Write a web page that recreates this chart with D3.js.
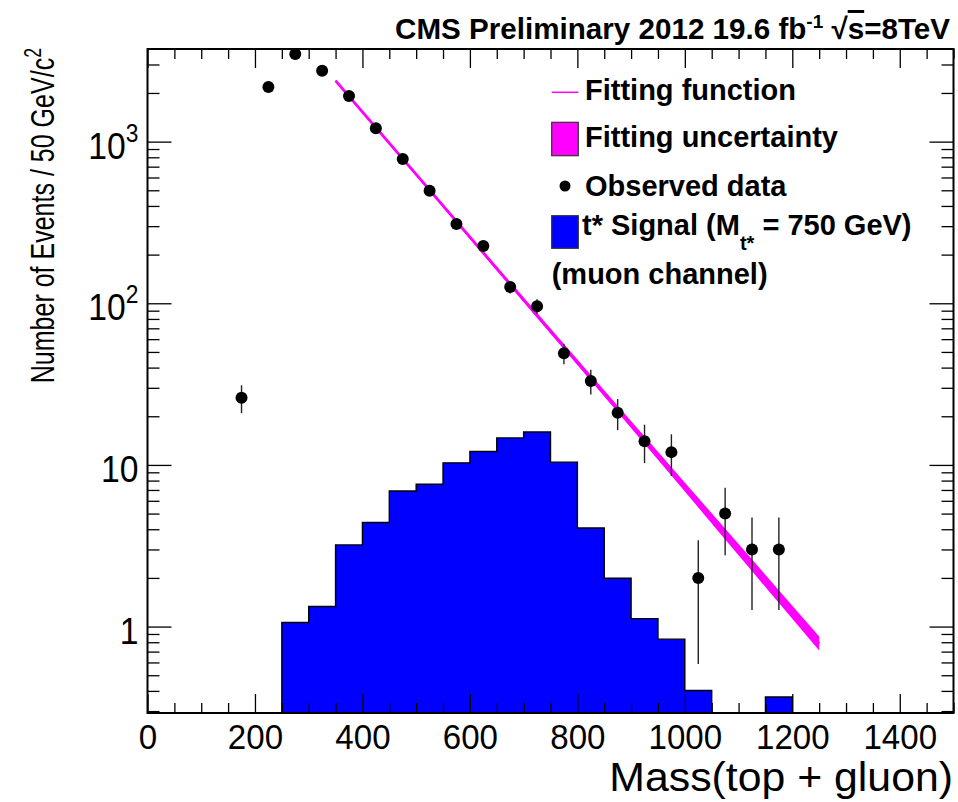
<!DOCTYPE html>
<html><head><meta charset="utf-8">
<script src="https://cdn.jsdelivr.net/npm/d3@7"></script>
<style>
html,body{margin:0;padding:0;background:#fff;}
svg{display:block;font-family:"Liberation Sans",Arial,Helvetica,sans-serif;}
</style></head><body>
<svg id="chart" width="958" height="802"></svg>
<script>
// ---------------- data ----------------
const dataMass   = [175,225,275,325,375,425,475,525,575,625,675,725,775,825,875,925,975,1025,1075,1125,1175];
const dataCounts = [26,2180,3480,2740,1914,1208,780,497,309,226,126,96,49,33,21,14,12,2,5,3,3];

const signalEdges  = [250,300,350,400,450,500,550,600,650,700,750,800,850,900,950,1000,1050,1100,1150,1200];
const signalValues = [1.06,1.33,3.2,4.4,6.9,7.6,10.3,12.1,14.7,16.0,10.4,4.07,1.99,1.12,0.836,0.402,0,0,0.367];

const fitMass   = [350,500,650,800,950,1100,1250];
const fitValues = [2380,627,164,43.2,11.4,2.99,0.785];
const fitUpper  = [2413,640,168.6,44.9,12.07,3.24,0.867];
const fitLower  = [2347,614,159.5,41.5,10.77,2.76,0.711];

const xDomain = [0,1500];
const yDomain = [0.292,3741];
const xMajorTicks = [0,200,400,600,800,1000,1200,1400];
const xMinorStep = 50;
const yMajorTicks = [1,10,100,1000];
const yTickBase = ["1","10","10","10"];
const yTickExp  = ["","","2","3"];

const titleMain = "CMS Preliminary 2012 19.6 fb";
const xTitle = "Mass(top + gluon)";
const yTitle = "Number of Events / 50 GeV/c";

// ---------------- layout ----------------
const M = {left:147.5, right:953.5, top:49, bottom:713};
const svg = d3.select("#chart");
const x = d3.scaleLinear().domain(xDomain).range([M.left, M.right]);
const y = d3.scaleLog().domain(yDomain).range([M.bottom, M.top]);
const yv = v => y(Math.max(v, yDomain[0]));

const MAGENTA = "#ff00ff", BLUE = "#0000ff";

// ---------------- signal histogram ----------------
const histPts = signalEdges.map((e,i) => [e, i < signalValues.length ? signalValues[i] : signalValues[signalValues.length-1]]);
const area = d3.area().curve(d3.curveStepAfter)
  .x(d => x(d[0])).y0(M.bottom).y1(d => yv(d[1]));
svg.append("path").datum(histPts).attr("d", area).attr("fill", BLUE);
const outPath = d3.path();
outPath.moveTo(x(signalEdges[0]), M.bottom);
signalValues.forEach((v,i) => {
  outPath.lineTo(x(signalEdges[i]), yv(v));
  outPath.lineTo(x(signalEdges[i+1]), yv(v));
});
outPath.lineTo(x(signalEdges[signalEdges.length-1]), M.bottom);
svg.append("path").attr("d", outPath.toString()).attr("fill","none").attr("stroke","#000").attr("stroke-width",1.4);

// ---------------- fit band + line ----------------
const fitData = fitMass.map((m,i) => ({m, v:fitValues[i], lo:fitLower[i], hi:fitUpper[i]}));
svg.append("path").datum(fitData)
  .attr("d", d3.area().curve(d3.curveMonotoneX).x(d => x(d.m)).y0(d => y(d.lo)).y1(d => y(d.hi)))
  .attr("fill", MAGENTA);
svg.append("path").datum(fitData)
  .attr("d", d3.line().curve(d3.curveMonotoneX).x(d => x(d.m)).y(d => y(d.v)))
  .attr("fill","none").attr("stroke", MAGENTA).attr("stroke-width", 2.8);

// ---------------- data points ----------------
const pts = dataMass.map((m,i) => ({m, n:dataCounts[i]}));
const g = svg.append("g");
g.selectAll("line.err").data(pts).join("line").attr("class","err")
  .attr("x1", d => x(d.m)).attr("x2", d => x(d.m))
  .attr("y1", d => yv(d.n + Math.sqrt(d.n))).attr("y2", d => yv(d.n - Math.sqrt(d.n)))
  .attr("stroke","#222").attr("stroke-width",1.4);
g.selectAll("circle").data(pts).join("circle")
  .attr("cx", d => x(d.m)).attr("cy", d => y(d.n)).attr("r", 6).attr("fill","#000");

// ---------------- frame & axes ----------------
const xMinor = d3.range(xDomain[0], xDomain[1]+1, xMinorStep).filter(v => !xMajorTicks.includes(v));
const yMinor = [];
[0.1,1,10,100,1000].forEach(dec => { for (let k=2;k<=9;k++){ const v=dec*k; if (v>=yDomain[0] && v<=yDomain[1]) yMinor.push(v);} });

function styleAxis(sel){ sel.select(".domain").remove(); sel.selectAll("line").attr("stroke","#000").attr("stroke-width",1.3); }

const axB = svg.append("g").attr("transform",`translate(0,${M.bottom})`)
  .call(d3.axisBottom(x).tickValues(xMajorTicks).tickSize(-19).tickPadding(0).tickFormat(d3.format("d")));
axB.call(styleAxis);
axB.selectAll("text").attr("y", 36).attr("dy", null)
  .attr("font-size", 36).attr("fill","#000").attr("transform","scale(0.92,1)");
svg.append("g").attr("transform",`translate(0,${M.bottom})`)
  .call(d3.axisBottom(x).tickValues(xMinor).tickSize(-10).tickFormat("")).call(styleAxis);
svg.append("g").attr("transform",`translate(0,${M.top})`)
  .call(d3.axisTop(x).tickValues(xMajorTicks).tickSize(-19).tickFormat("")).call(styleAxis);
svg.append("g").attr("transform",`translate(0,${M.top})`)
  .call(d3.axisTop(x).tickValues(xMinor).tickSize(-10).tickFormat("")).call(styleAxis);

const axL = svg.append("g").attr("transform",`translate(${M.left},0)`)
  .call(d3.axisLeft(y).tickValues(yMajorTicks).tickSize(-24).tickPadding(10).tickFormat(""));
axL.call(styleAxis);
axL.selectAll(".tick").each(function(d,i){
  const t = d3.select(this).append("text").attr("x",-10).attr("y",16.5)
    .attr("text-anchor","end").attr("font-size",37).attr("fill","#000")
    .attr("transform","scale(0.91,1)");
  t.append("tspan").text(yTickBase[i]);
  if (yTickExp[i]) t.append("tspan").attr("font-size",25).attr("dy",-17).text(yTickExp[i]);
});
svg.append("g").attr("transform",`translate(${M.left},0)`)
  .call(d3.axisLeft(y).tickValues(yMinor).tickSize(-12).tickFormat("")).call(styleAxis);
svg.append("g").attr("transform",`translate(${M.right},0)`)
  .call(d3.axisRight(y).tickValues(yMajorTicks).tickSize(-24).tickFormat("")).call(styleAxis);
svg.append("g").attr("transform",`translate(${M.right},0)`)
  .call(d3.axisRight(y).tickValues(yMinor).tickSize(-12).tickFormat("")).call(styleAxis);

svg.append("rect").attr("x",M.left).attr("y",M.top).attr("width",M.right-M.left).attr("height",M.bottom-M.top)
  .attr("fill","none").attr("stroke","#000").attr("stroke-width",2);

// ---------------- titles ----------------
const tt = svg.append("text").attr("x",950).attr("y",39).attr("text-anchor","end")
  .attr("font-size",29.6).attr("font-weight","bold").attr("fill","#000");
tt.append("tspan").text(titleMain);
tt.append("tspan").attr("font-size",19).attr("dy",-11).text("-1");
tt.append("tspan").attr("dy",11).text(" \u221A");
tt.append("tspan").style("text-decoration","overline").text("s");
tt.append("tspan").text("=8TeV");

svg.append("text").attr("transform","translate(953,791) scale(1.07,1)").attr("text-anchor","end")
  .attr("font-size",40).attr("fill","#000").text(xTitle);

const yt = svg.append("text").attr("transform","translate(54,48) rotate(-90) scale(0.77,1)")
  .attr("text-anchor","end").attr("font-size",32.5).attr("fill","#000");
yt.append("tspan").text(yTitle);
yt.append("tspan").attr("font-size",23).attr("dy",-13).text("2");

// ---------------- legend ----------------
const legendLabels = ["Fitting function","Fitting uncertainty","Observed data","t* Signal (M","(muon channel)"];
const legendBaseY = [100,147,196,235,284];
const LX = 551.7, LW = 26.6, TX = 585;
const lg = svg.append("g").attr("font-size",29).attr("font-weight","bold").attr("fill","#000");
// row 0: line
lg.append("line").attr("x1",LX).attr("x2",LX+LW).attr("y1",92.3).attr("y2",92.3)
  .attr("stroke",MAGENTA).attr("stroke-width",1.5);
// row 1: magenta box
lg.append("rect").attr("x",LX).attr("y",122.3).attr("width",LW).attr("height",33.4)
  .attr("fill",MAGENTA).attr("stroke","#333").attr("stroke-width",1.2);
// row 2: dot
lg.append("circle").attr("cx",LX+13.3).attr("cy",186).attr("r",5.5).attr("fill","#000");
// row 3: blue box
lg.append("rect").attr("x",LX).attr("y",215.7).attr("width",LW).attr("height",32.6)
  .attr("fill",BLUE).attr("stroke","#333").attr("stroke-width",1.2);
legendLabels.forEach((lab,i) => {
  const t = lg.append("text").attr("x", i===4 ? LX : TX).attr("y", legendBaseY[i]);
  if (i===3) {
    t.append("tspan").attr("x", TX - 3).text(lab);
    t.append("tspan").attr("font-size",20).attr("dy",15).text("t*");
    t.append("tspan").attr("dy",-15).text(" = 750 GeV)");
  } else {
    t.text(lab);
  }
});
</script>
</body></html>
